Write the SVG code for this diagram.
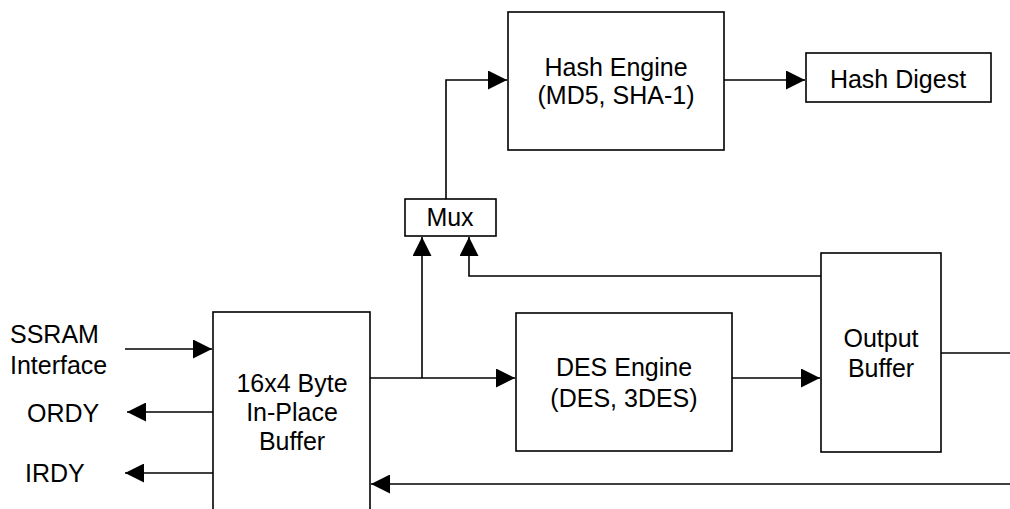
<svg xmlns="http://www.w3.org/2000/svg" width="1010" height="509" viewBox="0 0 1010 509">
<style>
.box{fill:#fff;stroke:#000;stroke-width:1.6}
.ln{fill:none;stroke:#000;stroke-width:1.6}
text{font-family:"Liberation Sans",Arial,sans-serif;font-size:25px;fill:#000}
.c{text-anchor:middle}
</style>
<defs>
<marker id="ah" markerUnits="userSpaceOnUse" markerWidth="19" markerHeight="19" refX="19" refY="9.5" orient="auto">
<path d="M0,0 L19,9.5 L0,19 z" fill="#000"/>
</marker>
</defs>
<rect width="1010" height="509" fill="#fff"/>
<g id="connectors">
<path class="ln" d="M446,199 V80 H507" marker-end="url(#ah)"/>
<path class="ln" d="M724,80 H805" marker-end="url(#ah)"/>
<path class="ln" d="M370,378 H515" marker-end="url(#ah)"/>
<path class="ln" d="M422,378 V237" marker-end="url(#ah)"/>
<path class="ln" d="M821,276 H469 V237" marker-end="url(#ah)"/>
<path class="ln" d="M732,378 H820" marker-end="url(#ah)"/>
<path class="ln" d="M941,353 H1010"/>
<path class="ln" d="M1010,484 H371" marker-end="url(#ah)"/>
<path class="ln" d="M125,349 H212" marker-end="url(#ah)"/>
<path class="ln" d="M213,412 H127" marker-end="url(#ah)"/>
<path class="ln" d="M213,473 H125" marker-end="url(#ah)"/>
</g>
<g id="hash-engine">
<rect class="box" x="508" y="12" width="216" height="138"/>
<text class="c" x="616" y="76">Hash Engine</text>
<text class="c" x="616" y="104">(MD5, SHA-1)</text>
</g>
<g id="hash-digest">
<rect class="box" x="806" y="53" width="185" height="49"/>
<text class="c" x="898" y="88">Hash Digest</text>
</g>
<g id="mux">
<rect class="box" x="405" y="199" width="91" height="37"/>
<text class="c" x="450" y="226">Mux</text>
</g>
<g id="in-place-buffer">
<rect class="box" x="213" y="312" width="157" height="220"/>
<text class="c" x="292" y="392">16x4 Byte</text>
<text class="c" x="292" y="421">In-Place</text>
<text class="c" x="292" y="450">Buffer</text>
</g>
<g id="des-engine">
<rect class="box" x="516" y="313" width="216" height="138"/>
<text class="c" x="624" y="376">DES Engine</text>
<text class="c" x="624" y="407">(DES, 3DES)</text>
</g>
<g id="output-buffer">
<rect class="box" x="821" y="253" width="120" height="199"/>
<text class="c" x="881" y="347">Output</text>
<text class="c" x="881" y="377">Buffer</text>
</g>
<g id="ssram">
<text x="10" y="343">SSRAM</text>
<text x="10" y="374">Interface</text>
</g>
<g id="ordy"><text x="27" y="422">ORDY</text></g>
<g id="irdy"><text x="25" y="482">IRDY</text></g>
</svg>
